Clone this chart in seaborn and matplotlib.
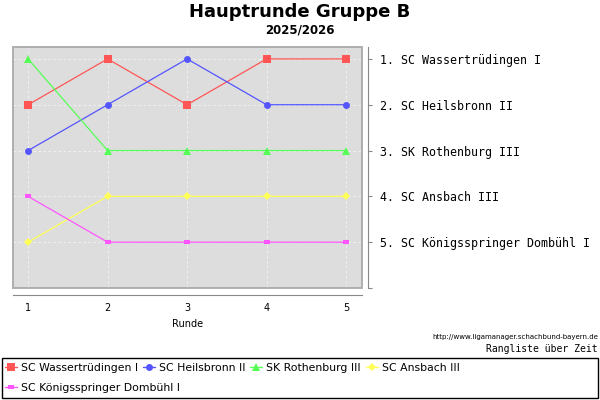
import numpy as np
import pandas as pd
import matplotlib
matplotlib.use('Agg')
import matplotlib.pyplot as plt
import seaborn as sns
from matplotlib.patches import Rectangle
from matplotlib.lines import Line2D

rounds = [1, 2, 3, 4, 5]
teams = ['SC Wassertrüdingen I', 'SC Heilsbronn II', 'SK Rothenburg III',
         'SC Ansbach III', 'SC Königsspringer Dombühl I']
ranks = {
    'SC Wassertrüdingen I': [2, 1, 2, 1, 1],
    'SC Heilsbronn II': [3, 2, 1, 2, 2],
    'SK Rothenburg III': [1, 3, 3, 3, 3],
    'SC Ansbach III': [5, 4, 4, 4, 4],
    'SC Königsspringer Dombühl I': [4, 5, 5, 5, 5],
}
final_order = ['1. SC Wassertrüdingen I', '2. SC Heilsbronn II', '3. SK Rothenburg III',
               '4. SC Ansbach III', '5. SC Königsspringer Dombühl I']
colors = ['#ff5555', '#5555ff', '#55ff55', '#ffff55', '#ff55ff']
flat_rect = [(-1, -0.6), (1, -0.6), (1, 0.6), (-1, 0.6), (-1, -0.6)]
markers = ['s', 'o', '^', 'D', flat_rect]
msizes = [5.2, 5, 5.5, 4, 5]

rows = []
for t in teams:
    for r, v in zip(rounds, ranks[t]):
        rows.append({'Runde': r, 'Rang': v, 'Team': t})
df = pd.DataFrame(rows)

sns.set_style('white')
plt.rcParams['font.family'] = ['DejaVu Sans']
plt.rcParams['text.color'] = 'black'
plt.rcParams['axes.labelcolor'] = 'black'
plt.rcParams['xtick.color'] = 'black'
plt.rcParams['ytick.color'] = 'black'

fig = plt.figure(figsize=(6, 4), dpi=100)
ax = fig.add_axes([13 / 600, 1 - 288 / 400, 349 / 600, 241 / 400])
ax.set_facecolor('#dddddd')

for i, t in enumerate(teams):
    sub = df[df['Team'] == t]
    sns.lineplot(data=sub, x='Runde', y='Rang', color=colors[i], marker=markers[i],
                 markersize=msizes[i], markeredgewidth=0, linewidth=0.9, ax=ax,
                 legend=False, zorder=3)

ax.set_xlim(0.81, 5.2)
ax.set_ylim(6, 0.74)
ax.set_xticks(rounds)
ax.set_yticks([1, 2, 3, 4, 5, 6])
ax.grid(True, color='#f4f4f4', linestyle=(0, (3, 3)), linewidth=0.6)
ax.set_axisbelow(True)

# frame around the plot area
ax.add_patch(Rectangle((0, 0), 1, 1, transform=ax.transAxes, fill=False,
                       edgecolor='#aaaaaa', linewidth=1.3, zorder=5, clip_on=False))

for s in ['left', 'top']:
    ax.spines[s].set_visible(False)
ax.spines['bottom'].set_position(('outward', 5))
ax.spines['right'].set_position(('outward', 4))
ax.spines['bottom'].set_color('#888888')
ax.spines['right'].set_color('#888888')
ax.yaxis.tick_right()
ax.yaxis.set_label_position('right')
ax.set_yticklabels(final_order + [''], family='DejaVu Sans Mono', fontsize=8.4)
ax.tick_params(axis='y', length=3, color='#888888', pad=6)
ax.tick_params(axis='x', length=3, color='#888888', labelsize=7, pad=3)
ax.set_xlabel('Runde', fontsize=7, labelpad=4)
ax.set_ylabel('')

fig.text(0.5, 1 - 12 / 400, 'Hauptrunde Gruppe B', ha='center', va='center',
         fontsize=13, fontweight='bold')
fig.text(0.5, 1 - 30 / 400, '2025/2026', ha='center', va='center',
         fontsize=8.5, fontweight='bold')
fig.text(598 / 600, 1 - 337 / 400, 'http://www.ligamanager.schachbund-bayern.de',
         ha='right', va='center', fontsize=5, family='DejaVu Sans')
fig.text(598 / 600, 1 - 349 / 400, 'Rangliste über Zeit', ha='right', va='center',
         fontsize=7, family='DejaVu Sans Mono')

# legend box spanning the full width
fig.add_artist(Rectangle((2 / 600, 2 / 400), 596 / 600, 40 / 400,
                         transform=fig.transFigure, fill=False, edgecolor='black',
                         linewidth=1))
handles = [Line2D([], [], color=colors[i], marker=markers[i], markersize=msizes[i],
                  markeredgewidth=0, linewidth=1) for i in range(len(teams))]
leg_kw = dict(loc='center left', ncol=4, fontsize=7.8, frameon=False, borderpad=0,
              handlelength=1.1, handletextpad=0.37, columnspacing=0.46, borderaxespad=0)
fig.legend(handles[:4], teams[:4], bbox_to_anchor=(5 / 600, 1 - 368 / 400), **leg_kw)
fig.legend(handles[4:], teams[4:], bbox_to_anchor=(5 / 600, 1 - 388 / 400), **leg_kw)

fig.savefig('out.png', dpi=100)
